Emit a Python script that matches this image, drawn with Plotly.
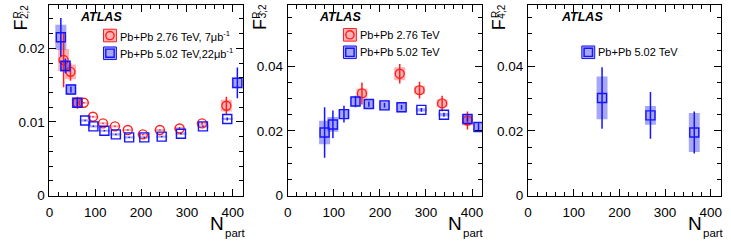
import plotly.graph_objects as go

W, H = 731, 250

# ---------------- data ----------------
# Panel 1: F^R_{2;2}
p1_blue_n = [25, 35, 47, 61, 78, 96, 120, 145, 174, 207, 245, 287, 335, 388, 410]
p1_blue_f = [0.0215, 0.0176, 0.0144, 0.0126, 0.0102, 0.0094, 0.0088, 0.0083, 0.0079, 0.0079, 0.0080, 0.0084, 0.0094, 0.0104, 0.0153]
p1_blue_stat = [0.0026, 0.0010, 0.0004, 0.0005, 0.0001, 0.0001, 0.0001, 0.0001, 0.0001, 0.0001, 0.0001, 0.0001, 0.0001, 0.0002, 0.0021]
p1_blue_sys = [0.0017, 0.0008, 0.0007, 0.0007, 0.00015, 0.00015, 0.00015, 0.00015, 0.00015, 0.00015, 0.00015, 0.00015, 0.00015, 0.00015, 0.0008]

p1_red_n = [31, 46, 61, 75, 95, 117, 143, 171, 204, 241, 284, 333, 386]
p1_red_f = [0.0184, 0.0168, 0.0126, 0.0126, 0.0107, 0.0098, 0.0094, 0.0089, 0.0083, 0.0089, 0.0091, 0.0098, 0.0122]
p1_red_stat = [0.0037, 0.0012, 0.0008, 0.0001, 0.0001, 0.0001, 0.0001, 0.0001, 0.0001, 0.0001, 0.0002, 0.0002, 0.0012]
p1_red_sys = [0.0015, 0.0010, 0.0006, 0.00015, 0.00015, 0.00015, 0.00015, 0.00015, 0.00015, 0.00015, 0.0002, 0.0002, 0.0008]

# Panel 2: F^R_{3;2}
p2_blue_n = [80, 98, 122, 147, 176, 210, 247, 290, 339, 390, 414]
p2_blue_f = [0.0195, 0.0220, 0.0252, 0.0291, 0.0283, 0.0279, 0.0273, 0.0265, 0.0250, 0.0237, 0.0212]
p2_blue_stat = [0.0078, 0.0043, 0.0026, 0.0018, 0.0008, 0.0007, 0.0007, 0.0006, 0.0006, 0.0008, 0.0012]
p2_blue_sys = [0.0036, 0.0023, 0.0015, 0.0015, 0.0015, 0.0015, 0.0015, 0.0005, 0.0005, 0.0015, 0.0015]

p2_red_n = [161, 243, 286, 335, 390]
p2_red_f = [0.0316, 0.0377, 0.0326, 0.0285, 0.0232]
p2_red_stat = [0.0034, 0.0030, 0.0026, 0.0024, 0.0028]
p2_red_sys = [0.0015, 0.0020, 0.0013, 0.0012, 0.0015]

# Panel 3: F^R_{4;2}
p3_blue_n = [162, 268, 364]
p3_blue_f = [0.0302, 0.0248, 0.0195]
p3_blue_stat = [0.0095, 0.0072, 0.0065]
p3_blue_sys = [0.0066, 0.0029, 0.0060]

x_range = [0, 422]
y1_range = [0, 0.0259]
y23_range = [0, 0.059]

# ---------------- style ----------------
BLUE = "rgb(20,20,255)"
RED = "rgb(255,30,30)"
BLUE_BOX = "rgba(60,60,230,0.45)"
RED_BOX = "rgba(255,40,40,0.35)"
FONT = "Liberation Sans"
BOXW = 24

fig = go.Figure()


def add_series(n, f, stat, sys, xa, ya, color, boxcolor, symbol):
    fig.add_trace(go.Bar(
        x=n, y=[2 * s for s in sys], base=[v - s for v, s in zip(f, sys)],
        width=BOXW, marker=dict(color=boxcolor, line=dict(width=0)),
        xaxis=xa, yaxis=ya, showlegend=False, hoverinfo="skip"))
    fig.add_trace(go.Scatter(
        x=n, y=f, mode="markers",
        error_y=dict(type="data", array=stat, width=0, thickness=1.5, color=color),
        marker=dict(symbol=symbol, size=9, color=color, line=dict(width=1.4, color=color)),
        xaxis=xa, yaxis=ya, showlegend=False))


add_series(p1_red_n, p1_red_f, p1_red_stat, p1_red_sys, "x", "y", RED, RED_BOX, "circle-open")
add_series(p1_blue_n, p1_blue_f, p1_blue_stat, p1_blue_sys, "x", "y", BLUE, BLUE_BOX, "square-open")
add_series(p2_red_n, p2_red_f, p2_red_stat, p2_red_sys, "x2", "y2", RED, RED_BOX, "circle-open")
add_series(p2_blue_n, p2_blue_f, p2_blue_stat, p2_blue_sys, "x2", "y2", BLUE, BLUE_BOX, "square-open")
add_series(p3_blue_n, p3_blue_f, p3_blue_stat, p3_blue_sys, "x3", "y3", BLUE, BLUE_BOX, "square-open")


def px(x):
    return x / W


def py(y):
    return 1 - y / H


y_dom = [py(202), py(5)]
x_doms = [[px(45.7), px(240.5)], [px(285.7), px(481.5)], [px(527.7), px(721.7)]]

tickfont = dict(family=FONT, size=13.5, color="black")


def xaxis(dom, anchor):
    return dict(domain=dom, anchor=anchor, range=x_range, showline=True, linecolor="black",
                linewidth=1, mirror="allticks", ticks="inside", ticklen=7, tickwidth=1,
                tickcolor="black", tick0=0, dtick=100, showgrid=False, zeroline=False,
                minor=dict(dtick=20, ticks="inside", ticklen=4, tickcolor="black", tickwidth=1, showgrid=False),
                tickfont=tickfont, ticklabelstandoff=4)


def yaxis(rng, dtick, mdtick, anchor):
    return dict(domain=y_dom, anchor=anchor, range=rng, showline=True, linecolor="black",
                linewidth=1, mirror="allticks", ticks="inside", ticklen=7, tickwidth=1,
                tickcolor="black", tick0=0, dtick=dtick, showgrid=False, zeroline=False,
                minor=dict(dtick=mdtick, ticks="inside", ticklen=4, tickcolor="black", tickwidth=1, showgrid=False),
                tickfont=tickfont, ticklabelstandoff=1)


fig.update_layout(
    width=W, height=H, margin=dict(l=0, r=0, t=0, b=0),
    paper_bgcolor="white", plot_bgcolor="white", barmode="overlay",
    font=dict(family=FONT, color="black"),
    xaxis=xaxis(x_doms[0], "y"), yaxis=yaxis(y1_range, 0.01, 0.002, "x"),
    xaxis2=xaxis(x_doms[1], "y2"), yaxis2=yaxis(y23_range, 0.02, 0.005, "x2"),
    xaxis3=xaxis(x_doms[2], "y3"), yaxis3=yaxis(y23_range, 0.02, 0.005, "x3"),
)

ann = []


def text(x, y, t, size, xanchor="center", yanchor="middle", angle=0, bold=False, italic=False):
    if bold:
        t = "<b>" + t + "</b>"
    if italic:
        t = "<i>" + t + "</i>"
    ann.append(dict(x=px(x), y=py(y), xref="paper", yref="paper", text=t, showarrow=False,
                    xanchor=xanchor, yanchor=yanchor, textangle=angle, borderpad=0,
                    font=dict(family=FONT, size=size, color="black")))


offsets = [0, 240, 481]
sub_labels = ["2;2", "3;2", "4;2"]
for off, sl in zip(offsets, sub_labels):
    # y titles (rotated, stacked sup/sub)
    text(17 + off, 25.5, "F", 18, angle=-90)
    text(13.5 + off, 15.5, "R", 10, angle=-90)
    text(20.5 + off, 12, sl, 10, angle=-90)
    # x titles
    text(214.5 + off, 231, "N", 19)
    text(221.5 + off, 240.5, "part", 11.5, xanchor="left")
    # ATLAS
    text(76 + off + (3 if off == 481 else 0), 17.5, "ATLAS", 12.5, xanchor="left", bold=True, italic=True)

shapes = []


def legend_entry(cx, cy, color, boxcolor, kind, label):
    shapes.append(dict(type="rect", xref="paper", yref="paper",
                       x0=px(cx - 6.5), x1=px(cx + 6.5), y0=py(cy + 6.5), y1=py(cy - 6.5),
                       fillcolor=boxcolor, line=dict(color=color, width=1)))
    if kind == "circle":
        shapes.append(dict(type="circle", xref="paper", yref="paper",
                           x0=px(cx - 4.2), x1=px(cx + 4.2), y0=py(cy + 4.2), y1=py(cy - 4.2),
                           line=dict(color=color, width=1.4)))
    else:
        shapes.append(dict(type="rect", xref="paper", yref="paper",
                           x0=px(cx - 4.2), x1=px(cx + 4.2), y0=py(cy + 4.2), y1=py(cy - 4.2),
                           line=dict(color=color, width=1.4)))
    text(cx + 9, cy, label, 11, xanchor="left")


legend_entry(106.7, 36.7, RED, RED_BOX, "circle", "Pb+Pb 2.76 TeV, 7\u03bcb<sup>-1</sup>")
legend_entry(106.7, 55, BLUE, BLUE_BOX, "square", "Pb+Pb 5.02 TeV,22\u03bcb<sup>-1</sup>")
legend_entry(348.3, 36, RED, RED_BOX, "circle", "Pb+Pb 2.76 TeV")
legend_entry(348.3, 54, BLUE, BLUE_BOX, "square", "Pb+Pb 5.02 TeV")
legend_entry(588.3, 54, BLUE, BLUE_BOX, "square", "Pb+Pb 5.02 TeV")

fig.update_layout(annotations=ann, shapes=shapes)
fig.write_html("out.html", config={"displayModeBar": False},
               post_script="document.body.style.margin='0px';")
